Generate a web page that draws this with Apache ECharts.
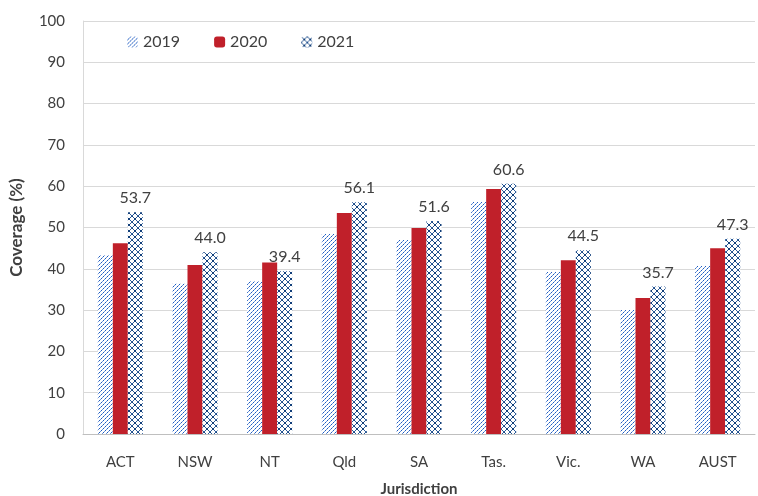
<!DOCTYPE html>
<html>
<head>
<meta charset="utf-8">
<script src="https://cdn.jsdelivr.net/npm/echarts@6/dist/echarts.min.js"></script>
<style>
  html, body { margin: 0; padding: 0; background: #fff; }
  #chart { width: 758px; height: 496px; }
</style>
</head>
<body>
<div id="chart"></div>
<script>
const categories = ['ACT', 'NSW', 'NT', 'Qld', 'SA', 'Tas.', 'Vic.', 'WA', 'AUST'];
const values2019 = [43.3, 36.4, 37.0, 48.4, 47.0, 56.2, 39.2, 30.0, 40.7];
const values2020 = [46.2, 40.9, 41.5, 53.5, 49.9, 59.3, 42.1, 32.9, 45.0];
const values2021 = [53.7, 44.0, 39.4, 56.1, 51.6, 60.6, 44.5, 35.7, 47.3];
const yTicks = [0, 10, 20, 30, 40, 50, 60, 70, 80, 90, 100];

const font = 'Lato, Carlito, "Liberation Sans", sans-serif';

// diagonal dotted hatch for 2019
function hatchDiag() {
  const c = document.createElement('canvas');
  c.width = 4; c.height = 4;
  const ctx = c.getContext('2d');
  ctx.fillStyle = '#ffffff';
  ctx.fillRect(0, 0, 4, 4);
  for (let i = 0; i < 4; i++) {
    ctx.fillStyle = i % 2 ? '#6f98dc' : '#1f5cc0';
    ctx.fillRect(3 - i, i, 1, 1);
  }
  return c;
}

// diamond cross-hatch for 2021
function hatchCross() {
  const c = document.createElement('canvas');
  c.width = 6; c.height = 6;
  const ctx = c.getContext('2d');
  ctx.fillStyle = '#ffffff';
  ctx.fillRect(0, 0, 6, 6);
  ctx.fillStyle = '#2a5a98';
  for (let i = 0; i < 6; i++) {
    ctx.fillRect(i, i, 1, 1);
    ctx.fillRect(5 - i, i, 1, 1);
  }
  ctx.fillStyle = '#123f7a';
  ctx.fillRect(0, 0, 1, 1);
  ctx.fillRect(2, 2, 2, 2);
  return c;
}

const pat2019 = { image: hatchDiag(), repeat: 'repeat' };
const pat2021 = { image: hatchCross(), repeat: 'repeat' };

const chart = echarts.init(document.getElementById('chart'));

const option = {
  animation: false,
  backgroundColor: '#ffffff',
  textStyle: { fontFamily: font },
  grid: { left: 83, right: 3, top: 21, bottom: 62, outerBoundsMode: 'none', containLabel: false },
  legend: {
    top: 29,
    left: 122,
    itemWidth: 11,
    itemHeight: 11,
    itemGap: 34,
    textStyle: { fontSize: 16, color: '#404040', fontFamily: font },
    data: ['2019', '2020', '2021']
  },
  xAxis: {
    type: 'category',
    data: categories,
    name: 'Jurisdiction',
    nameLocation: 'middle',
    nameGap: 48,
    nameTextStyle: { fontSize: 15, fontWeight: 'bold', color: '#404040', fontFamily: font },
    axisLine: { lineStyle: { color: '#bfbfbf', width: 1 } },
    axisTick: { show: false },
    axisLabel: { fontSize: 15, color: '#404040', margin: 21 }
  },
  yAxis: {
    type: 'value',
    min: yTicks[0],
    max: yTicks[yTicks.length - 1],
    interval: 10,
    name: 'Coverage (%)',
    nameLocation: 'middle',
    nameGap: 58,
    nameTextStyle: { fontSize: 17, fontWeight: 'bold', color: '#404040', fontFamily: font },
    axisLine: { show: true, lineStyle: { color: '#d9d9d9' } },
    axisTick: { show: false },
    axisLabel: { fontSize: 15, color: '#404040', margin: 18 },
    splitLine: { lineStyle: { color: '#d9d9d9', width: 1 } }
  },
  series: [
    {
      name: '2019',
      type: 'bar',
      data: values2019,
      barWidth: 15,
      barGap: '0%',
      itemStyle: { color: pat2019 }
    },
    {
      name: '2020',
      type: 'bar',
      data: values2020,
      barWidth: 15,
      barGap: '0%',
      itemStyle: { color: '#c0202a' }
    },
    {
      name: '2021',
      type: 'bar',
      data: values2021,
      barWidth: 15,
      barGap: '0%',
      itemStyle: { color: pat2021 },
      label: {
        show: true,
        position: 'top',
        distance: 6,
        fontSize: 16,
        color: '#404040',
        formatter: (p) => p.value.toFixed(1)
      }
    }
  ]
};

chart.setOption(option);
</script>
</body>
</html>
